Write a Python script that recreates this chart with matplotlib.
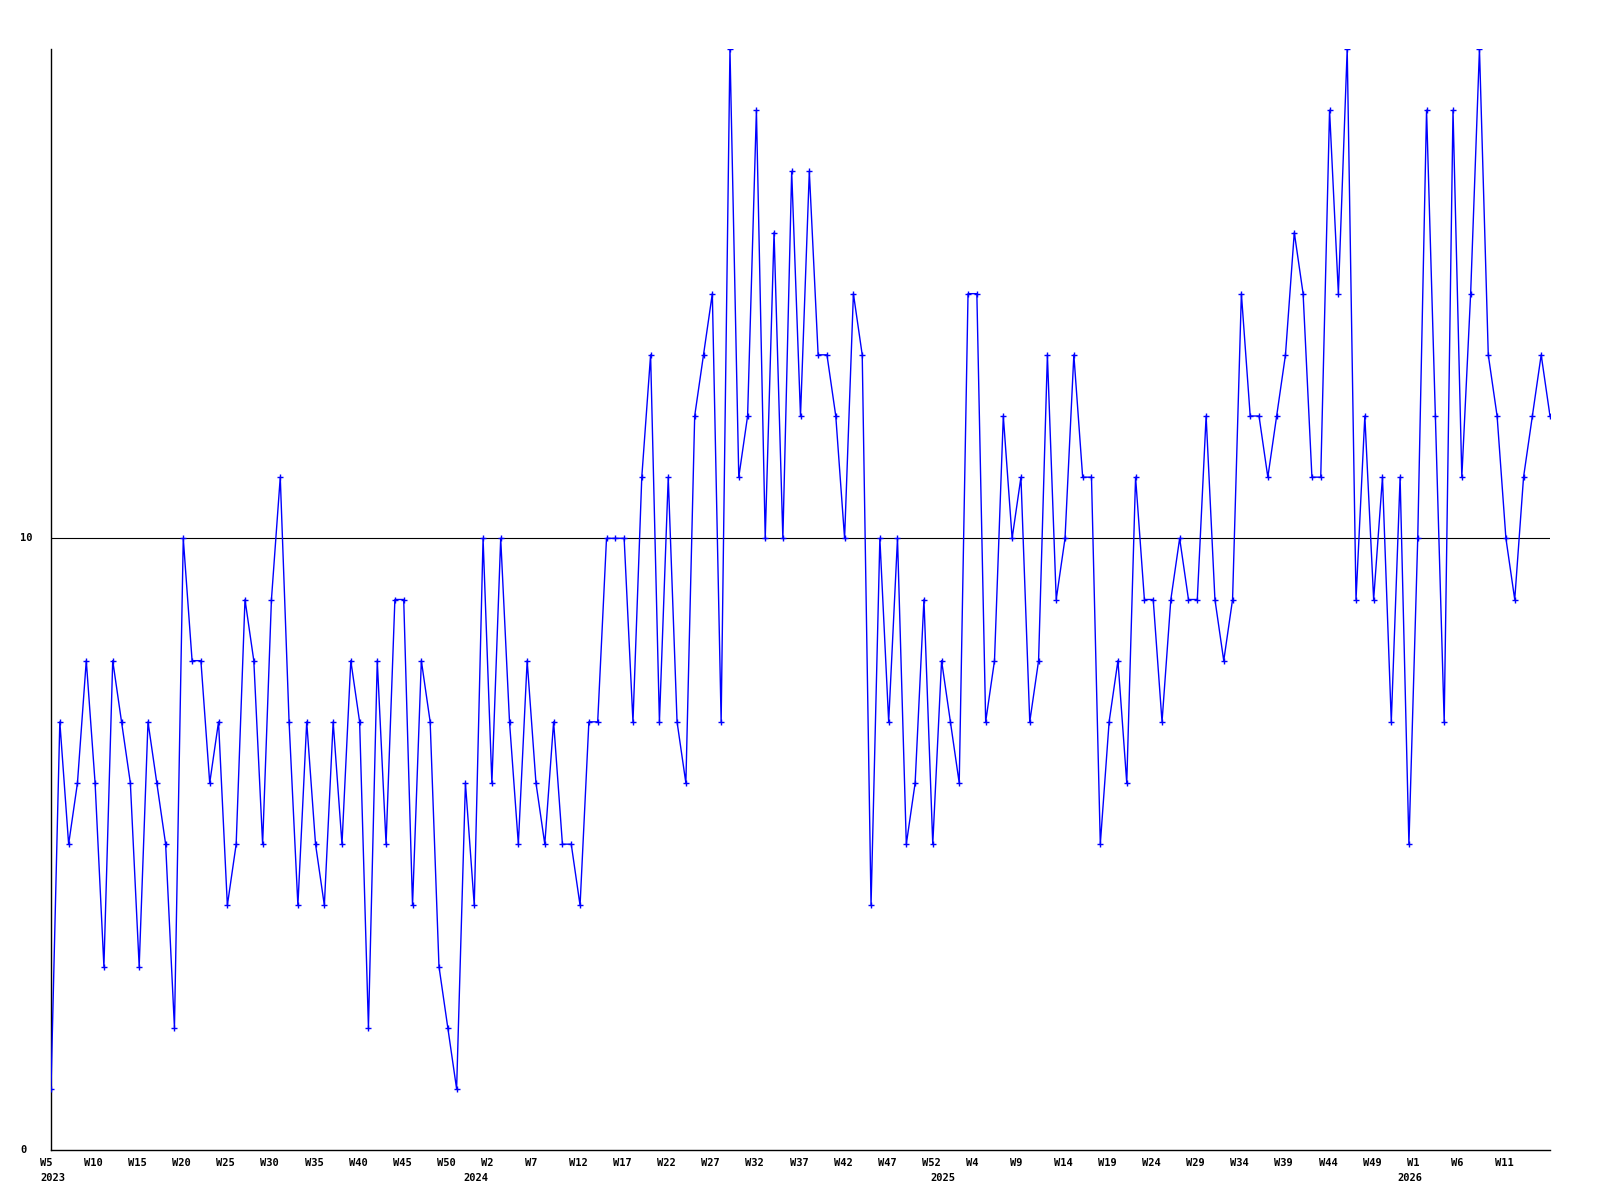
"""
Weekly counts 2023 W5 - 2026 W16, drawn as a thin blue line with
small markers, in the style of a plain bitmap web chart.
"""

import matplotlib
matplotlib.use('Agg')
import matplotlib.pyplot as plt
import matplotlib.transforms as mtransforms

# weekly values, one per week starting 2023 W5
values_2023 = [1, 7, 5, 6, 8, 6, 3, 8, 7, 6, 3, 7, 6, 5, 2, 10, 8, 8, 6, 7,
               4, 5, 9, 8, 5, 9, 11, 7, 4, 7, 5, 4, 7, 5, 8, 7, 2, 8, 5, 9,
               9, 4, 8, 7, 3, 2, 1, 6, 4]
values_2024 = [10, 6, 10, 7, 5, 8, 6, 5, 7, 5, 5, 4, 7, 7, 10, 10, 10, 7, 11, 13,
               7, 11, 7, 6, 12, 13, 14, 7, 18, 11, 12, 17, 10, 15, 10, 16, 12, 16, 13, 13,
               12, 10, 14, 13, 4, 10, 7, 10, 5, 6, 9, 5, 8]
values_2025 = [7, 6, 14, 14, 7, 8, 12, 10, 11, 7, 8, 13, 9, 10, 13, 11, 11, 5, 7, 8,
               6, 11, 9, 9, 7, 9, 10, 9, 9, 12, 9, 8, 9, 14, 12, 12, 11, 12, 13, 15,
               14, 11, 11, 17, 14, 18, 9, 12, 9, 11, 7, 11, 5]
values_2026 = [10, 17, 12, 7, 17, 11, 14, 18, 13, 12, 10, 9, 11, 12, 13, 12]

values = values_2023 + values_2024 + values_2025 + values_2026

# every fifth week gets a label
week_labels = ['W5', 'W10', 'W15', 'W20', 'W25', 'W30', 'W35', 'W40', 'W45', 'W50',
               'W2', 'W7', 'W12', 'W17', 'W22', 'W27', 'W32', 'W37', 'W42', 'W47',
               'W52', 'W4', 'W9', 'W14', 'W19', 'W24', 'W29', 'W34', 'W39', 'W44',
               'W49', 'W1', 'W6', 'W11']
years = ['2023', '2024', '2025', '2026']
year_start = [0, 49, 102, 155]   # index of first week shown in each year

y_ticks = [0, 10]
ref_level = 10

FONT = dict(family='DejaVu Sans Mono', fontweight='bold', fontsize=7.5)


def main():
    fig = plt.figure(figsize=(16, 12), dpi=100)
    ax = fig.add_axes([51 / 1600, 50 / 1200, 1499 / 1600, 1101 / 1200])

    x = list(range(len(values)))
    ax.plot(x, values, color='#0000ff', linewidth=1, marker='+',
            markersize=4, markeredgewidth=1, zorder=3)
    ax.axhline(ref_level, color='black', linewidth=0.8, zorder=2)

    ax.set_xlim(0, len(values) - 1)
    ax.set_ylim(0, 18)

    for side in ('top', 'right'):
        ax.spines[side].set_visible(False)
    for side in ('left', 'bottom'):
        ax.spines[side].set_linewidth(1)
        ax.spines[side].set_color('black')
    ax.set_xticks([])
    ax.set_yticks([])

    # x labels: week under every fifth point, year below
    trans_x = mtransforms.blended_transform_factory(ax.transData, ax.transAxes)
    wk_trans = mtransforms.offset_copy(trans_x, fig=fig, x=-11, y=-13, units='dots')
    for i, lab in enumerate(week_labels):
        ax.text(i * 5, 0, lab, transform=wk_trans, ha='left', va='center', **FONT)

    for yr, idx in zip(years, year_start):
        dx = -11 if idx == 0 else -20
        yr_trans = mtransforms.offset_copy(trans_x, fig=fig, x=dx, y=-28, units='dots')
        ax.text(idx, 0, yr, transform=yr_trans, ha='left', va='center', **FONT)

    # y labels, left aligned in the margin
    trans_y = mtransforms.blended_transform_factory(ax.transAxes, ax.transData)
    for v in y_ticks:
        ax.text((20 - 51) / 1499, v, str(v), transform=trans_y,
                ha='left', va='center', **FONT)

    fig.savefig('out.png', dpi=100, facecolor='white')


if __name__ == "__main__":
    main()
